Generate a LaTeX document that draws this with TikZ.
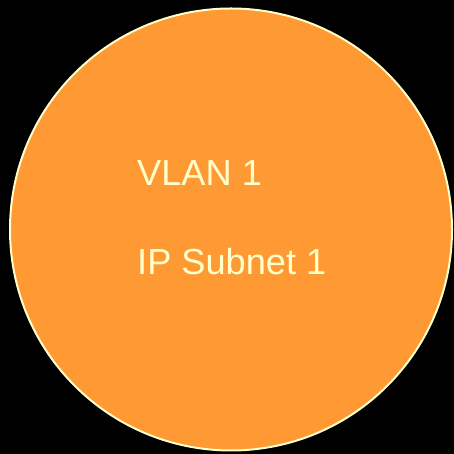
\documentclass[tikz,border=0pt]{standalone}
\usepackage{fontspec}
\setmainfont{Liberation Sans}
\definecolor{bg}{HTML}{000000}
\definecolor{orangefill}{HTML}{FF9933}
\definecolor{paleline}{HTML}{FFFFCC}
\tikzset{
  label text/.style={text=paleline, font=\fontsize{36.2}{40}\selectfont, anchor=base west, inner sep=0pt},
}
\begin{document}
\begin{tikzpicture}[x=1pt,y=1pt]
\fill[bg] (0,0) rectangle (454,454);
\useasboundingbox (0,0) rectangle (454,454);
\node[circle, fill=orangefill, draw=paleline, line width=2pt, minimum size=442pt, inner sep=0pt] (vlan) at (231,224.5) {};
\node[label text] (t1) at (137,268) {VLAN 1};
\node[label text] (t2) at (137,179) {IP Subnet 1};
\end{tikzpicture}
\end{document}
